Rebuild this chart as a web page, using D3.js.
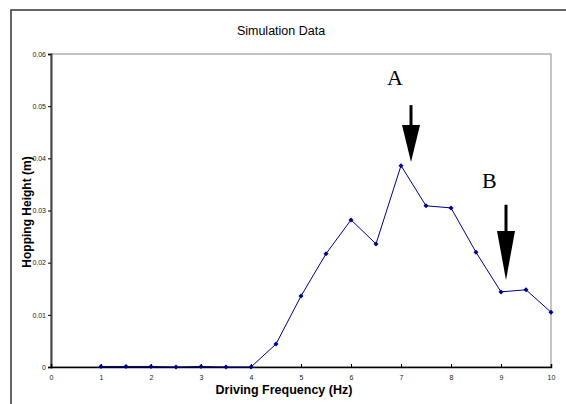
<!DOCTYPE html>
<meta charset="utf-8">
<head>
    <style>
        body { margin: 0; background: #fff; }
        svg { display: block; }
        text { font-family: Arial, "Liberation Sans", sans-serif; }
        .tick text { font-size: 7px; fill: #222; }
        .note { font-family: "Liberation Serif", "DejaVu Serif", serif; font-size: 22px; }
    </style>
    <script src="https://d3js.org/d3.v7.min.js"></script>
</head>
<body>
<script>
    const freq = [1, 1.5, 2, 2.5, 3, 3.5, 4, 4.5, 5, 5.5, 6, 6.5, 7, 7.5, 8, 8.5, 9, 9.5, 10]
    const height_m = [0.0001, 0.0001, 0.0001, 0.0000, 0.0001, 0.0000, 0.0000, 0.0044, 0.0136, 0.0217,
        0.0282, 0.0236, 0.0386, 0.0309, 0.0305, 0.0220, 0.0144, 0.0148, 0.0105]
    const xTicks = [0, 1, 2, 3, 4, 5, 6, 7, 8, 9, 10]
    const yTicks = [0, 0.01, 0.02, 0.03, 0.04, 0.05, 0.06]
    // annotation arrows: label, x, top of shaft, tip
    const notes = [
        { label: "A", x: 7.2, top: 0.0502, tip: 0.0393, lx: 6.72, ly: 0.0541 },
        { label: "B", x: 9.1, top: 0.0311, tip: 0.0167, lx: 8.62, ly: 0.0344 }
    ]

    const W = 566, H = 404
    const x = d3.scaleLinear().domain([0, 10]).range([51, 551])
    const y = d3.scaleLinear().domain([0, 0.06]).range([367, 54])

    const svg = d3.select("body").append("svg").attr("width", W).attr("height", H)

    // outer chart frame
    svg.append("rect").attr("x", 11).attr("y", 10).attr("width", 600).attr("height", 440)
        .attr("fill", "none").attr("stroke", "#333").attr("stroke-width", 1.5)

    // plot area border
    svg.append("rect").attr("x", x(0)).attr("y", y(0.06))
        .attr("width", x(10) - x(0)).attr("height", y(0) - y(0.06))
        .attr("fill", "none").attr("stroke", "#888").attr("stroke-width", 1)

    svg.append("text").attr("x", 281).attr("y", 35).attr("text-anchor", "middle")
        .attr("font-size", 12.5).text("Simulation Data")

    const yAxis = svg.append("g").attr("transform", `translate(${x(0)},0)`)
        .call(d3.axisLeft(y).tickValues(yTicks).tickSize(3).tickPadding(2)
            .tickFormat(d => d === 0 ? "0" : d3.format(".2f")(d)))
    yAxis.select(".domain").attr("stroke", "#444").attr("stroke-width", 2)

    const xAxis = svg.append("g").attr("transform", `translate(0,${y(0)})`)
        .call(d3.axisBottom(x).tickValues(xTicks).tickSize(-3).tickPadding(8)
            .tickFormat(d3.format("d")))
    xAxis.select(".domain").attr("stroke", "#000").attr("stroke-width", 1.5)

    svg.append("text").attr("x", 284).attr("y", 394).attr("text-anchor", "middle")
        .attr("font-size", 12.5).attr("font-weight", "bold").text("Driving Frequency (Hz)")

    svg.append("text").attr("transform", "translate(31,212) rotate(-90)")
        .attr("text-anchor", "middle").attr("font-size", 12).attr("font-weight", "bold")
        .text("Hopping Height (m)")

    const pts = freq.map((f, i) => [f, height_m[i]])
    svg.append("path").datum(pts)
        .attr("fill", "none").attr("stroke", "#00008b").attr("stroke-width", 1)
        .attr("d", d3.line().x(d => x(d[0])).y(d => y(d[1])))

    svg.selectAll(".mk").data(pts).enter().append("path")
        .attr("class", "mk")
        .attr("transform", d => `translate(${x(d[0])},${y(d[1])})`)
        .attr("d", "M0,-2.5L2.5,0L0,2.5L-2.5,0Z")
        .attr("fill", "#00008b")

    notes.forEach(n => {
        const cx = x(n.x), t = y(n.top), p = y(n.tip)
        const headH = (p - t) * 0.65
        svg.append("rect").attr("x", cx - 1.5).attr("y", t).attr("width", 3).attr("height", p - t - headH + 1)
            .attr("fill", "#000")
        svg.append("path")
            .attr("d", `M${cx - 9},${p - headH}L${cx + 9},${p - headH}L${cx},${p}Z`)
            .attr("fill", "#000")
        svg.append("text").attr("class", "note").attr("x", x(n.lx)).attr("y", y(n.ly))
            .text(n.label)
    })
</script>
</body>
